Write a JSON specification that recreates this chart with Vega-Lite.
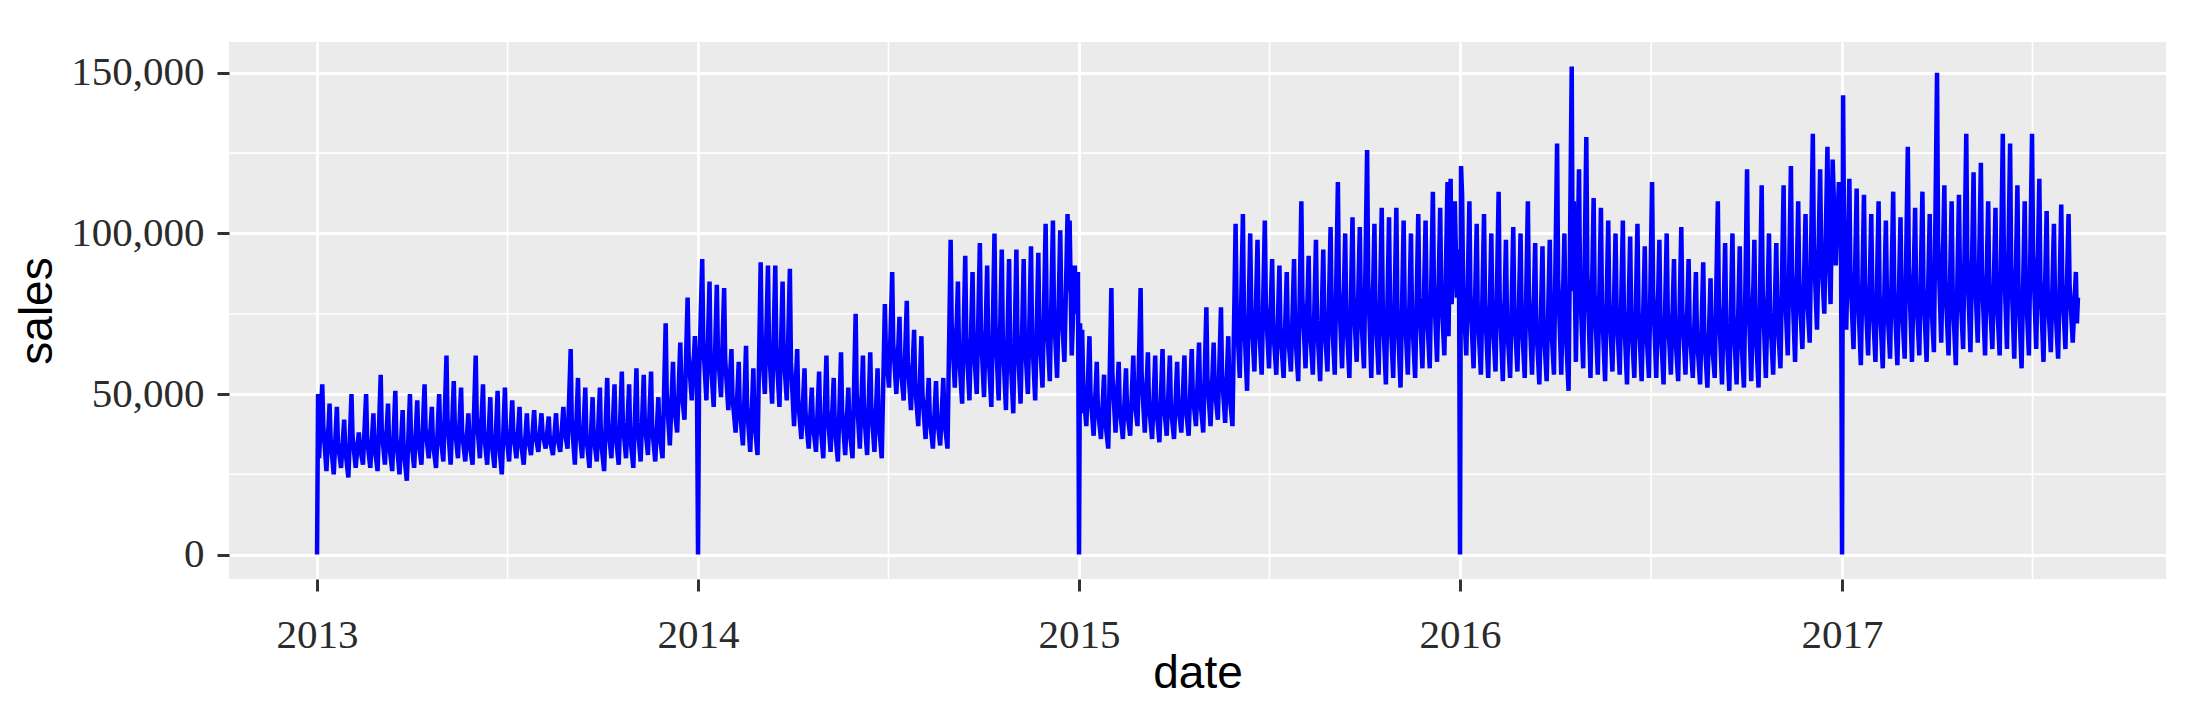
{
  "$schema": "https://vega.github.io/schema/vega-lite/v6.json",
  "width": 1937,
  "height": 537,
  "autosize": {"type": "none"},
  "padding": {"left": 229, "top": 42, "right": 25, "bottom": 146},
  "background": "white",
  "config": {
    "view": {"fill": "#EBEBEB", "stroke": null},
    "axis": {
      "domain": false,
      "grid": true,
      "gridColor": "white",
      "gridWidth": 3,
      "tickColor": "#333333",
      "tickWidth": 3,
      "tickSize": 12,
      "labelFont": "Liberation Serif",
      "labelFontSize": 41,
      "labelColor": "#2b2b2b",
      "titleFont": "Liberation Sans",
      "titleFontSize": 46,
      "titleFontWeight": "normal",
      "titleColor": "black",
      "titleBaseline": "alphabetic",
      "labelOverlap": false,
      "labelFlush": false,
      "labelBound": false
    }
  },
  "datasets": {
    "vg": [
      {"date": "2013-07-02T12:00:00Z"},
      {"date": "2014-07-02T12:00:00Z"},
      {"date": "2015-07-02T12:00:00Z"},
      {"date": "2016-07-02T00:00:00Z"},
      {"date": "2017-07-02T12:00:00Z"}
    ],
    "hg": [
      {"sales": 25000},
      {"sales": 75000},
      {"sales": 125000}
    ],
    "s": [
{"date":"2013-01-01","sales":0},{"date":"2013-01-02","sales":50000},{"date":"2013-01-03","sales":30000},{"date":"2013-01-06","sales":53000},{"date":"2013-01-10","sales":26000},{"date":"2013-01-13","sales":47000},{"date":"2013-01-17","sales":25000},{"date":"2013-01-20","sales":46000},{"date":"2013-01-24","sales":27000},{"date":"2013-01-27","sales":42000},{"date":"2013-01-31","sales":24000},
{"date":"2013-02-03","sales":50000},{"date":"2013-02-07","sales":27000},{"date":"2013-02-10","sales":38000},{"date":"2013-02-14","sales":28000},{"date":"2013-02-17","sales":50000},{"date":"2013-02-21","sales":27000},{"date":"2013-02-24","sales":44000},{"date":"2013-02-28","sales":26000},
{"date":"2013-03-03","sales":56000},{"date":"2013-03-07","sales":28000},{"date":"2013-03-10","sales":47000},{"date":"2013-03-14","sales":26000},{"date":"2013-03-17","sales":51000},{"date":"2013-03-21","sales":25000},{"date":"2013-03-24","sales":45000},{"date":"2013-03-28","sales":23000},{"date":"2013-03-31","sales":50000},
{"date":"2013-04-04","sales":27000},{"date":"2013-04-07","sales":48000},{"date":"2013-04-11","sales":28000},{"date":"2013-04-14","sales":53000},{"date":"2013-04-18","sales":30000},{"date":"2013-04-21","sales":46000},{"date":"2013-04-25","sales":27000},{"date":"2013-04-28","sales":50000},
{"date":"2013-05-02","sales":29000},{"date":"2013-05-05","sales":62000},{"date":"2013-05-09","sales":28000},{"date":"2013-05-12","sales":54000},{"date":"2013-05-16","sales":30000},{"date":"2013-05-19","sales":52000},{"date":"2013-05-23","sales":29000},{"date":"2013-05-26","sales":44000},{"date":"2013-05-30","sales":28000},
{"date":"2013-06-02","sales":62000},{"date":"2013-06-06","sales":30000},{"date":"2013-06-09","sales":53000},{"date":"2013-06-13","sales":28000},{"date":"2013-06-16","sales":49000},{"date":"2013-06-20","sales":27000},{"date":"2013-06-23","sales":51000},{"date":"2013-06-27","sales":25000},{"date":"2013-06-30","sales":52000},
{"date":"2013-07-04","sales":29000},{"date":"2013-07-07","sales":48000},{"date":"2013-07-11","sales":30000},{"date":"2013-07-14","sales":46000},{"date":"2013-07-18","sales":28000},{"date":"2013-07-21","sales":44000},{"date":"2013-07-25","sales":31000},{"date":"2013-07-28","sales":45000},
{"date":"2013-08-01","sales":32000},{"date":"2013-08-04","sales":44000},{"date":"2013-08-08","sales":33000},{"date":"2013-08-11","sales":43000},{"date":"2013-08-15","sales":31000},{"date":"2013-08-18","sales":44000},{"date":"2013-08-22","sales":32000},{"date":"2013-08-25","sales":46000},{"date":"2013-08-29","sales":33000},
{"date":"2013-09-01","sales":64000},{"date":"2013-09-05","sales":28000},{"date":"2013-09-08","sales":55000},{"date":"2013-09-12","sales":30000},{"date":"2013-09-15","sales":52000},{"date":"2013-09-19","sales":27000},{"date":"2013-09-22","sales":49000},{"date":"2013-09-26","sales":29000},{"date":"2013-09-29","sales":52000},
{"date":"2013-10-03","sales":26000},{"date":"2013-10-06","sales":55000},{"date":"2013-10-10","sales":30000},{"date":"2013-10-13","sales":53000},{"date":"2013-10-17","sales":28000},{"date":"2013-10-20","sales":57000},{"date":"2013-10-24","sales":30000},{"date":"2013-10-27","sales":53000},{"date":"2013-10-31","sales":27000},
{"date":"2013-11-03","sales":58000},{"date":"2013-11-07","sales":29000},{"date":"2013-11-10","sales":56000},{"date":"2013-11-14","sales":31000},{"date":"2013-11-17","sales":57000},{"date":"2013-11-21","sales":29000},{"date":"2013-11-24","sales":49000},{"date":"2013-11-28","sales":30000},
{"date":"2013-12-01","sales":72000},{"date":"2013-12-05","sales":34000},{"date":"2013-12-08","sales":60000},{"date":"2013-12-12","sales":38000},{"date":"2013-12-15","sales":66000},{"date":"2013-12-19","sales":42000},{"date":"2013-12-22","sales":80000},{"date":"2013-12-26","sales":48000},{"date":"2013-12-29","sales":68000},{"date":"2013-12-31","sales":52000},
{"date":"2014-01-01","sales":0},{"date":"2014-01-02","sales":55000},{"date":"2014-01-05","sales":92000},{"date":"2014-01-09","sales":48000},{"date":"2014-01-12","sales":85000},{"date":"2014-01-16","sales":46000},{"date":"2014-01-19","sales":84000},{"date":"2014-01-23","sales":49000},{"date":"2014-01-26","sales":83000},{"date":"2014-01-30","sales":45000},
{"date":"2014-02-02","sales":64000},{"date":"2014-02-06","sales":38000},{"date":"2014-02-09","sales":60000},{"date":"2014-02-13","sales":34000},{"date":"2014-02-16","sales":65000},{"date":"2014-02-20","sales":32000},{"date":"2014-02-23","sales":58000},{"date":"2014-02-27","sales":31000},
{"date":"2014-03-02","sales":91000},{"date":"2014-03-06","sales":50000},{"date":"2014-03-09","sales":90000},{"date":"2014-03-13","sales":47000},{"date":"2014-03-16","sales":90000},{"date":"2014-03-20","sales":46000},{"date":"2014-03-23","sales":85000},{"date":"2014-03-27","sales":48000},{"date":"2014-03-30","sales":89000},
{"date":"2014-04-03","sales":40000},{"date":"2014-04-06","sales":64000},{"date":"2014-04-10","sales":36000},{"date":"2014-04-13","sales":58000},{"date":"2014-04-17","sales":33000},{"date":"2014-04-20","sales":52000},{"date":"2014-04-24","sales":32000},{"date":"2014-04-27","sales":57000},
{"date":"2014-05-01","sales":30000},{"date":"2014-05-04","sales":62000},{"date":"2014-05-08","sales":32000},{"date":"2014-05-11","sales":55000},{"date":"2014-05-15","sales":29000},{"date":"2014-05-18","sales":63000},{"date":"2014-05-22","sales":31000},{"date":"2014-05-25","sales":52000},{"date":"2014-05-29","sales":30000},
{"date":"2014-06-01","sales":75000},{"date":"2014-06-05","sales":33000},{"date":"2014-06-08","sales":62000},{"date":"2014-06-12","sales":31000},{"date":"2014-06-15","sales":63000},{"date":"2014-06-19","sales":32000},{"date":"2014-06-22","sales":58000},{"date":"2014-06-26","sales":30000},{"date":"2014-06-29","sales":78000},
{"date":"2014-07-03","sales":52000},{"date":"2014-07-06","sales":88000},{"date":"2014-07-10","sales":50000},{"date":"2014-07-13","sales":74000},{"date":"2014-07-17","sales":48000},{"date":"2014-07-20","sales":79000},{"date":"2014-07-24","sales":45000},{"date":"2014-07-27","sales":70000},{"date":"2014-07-31","sales":40000},
{"date":"2014-08-03","sales":68000},{"date":"2014-08-07","sales":36000},{"date":"2014-08-10","sales":55000},{"date":"2014-08-14","sales":33000},{"date":"2014-08-17","sales":54000},{"date":"2014-08-21","sales":34000},{"date":"2014-08-24","sales":55000},{"date":"2014-08-28","sales":33000},{"date":"2014-08-31","sales":98000},
{"date":"2014-09-04","sales":52000},{"date":"2014-09-07","sales":85000},{"date":"2014-09-11","sales":47000},{"date":"2014-09-14","sales":93000},{"date":"2014-09-18","sales":48000},{"date":"2014-09-21","sales":88000},{"date":"2014-09-25","sales":50000},{"date":"2014-09-28","sales":97000},
{"date":"2014-10-02","sales":49000},{"date":"2014-10-05","sales":90000},{"date":"2014-10-09","sales":46000},{"date":"2014-10-12","sales":100000},{"date":"2014-10-16","sales":48000},{"date":"2014-10-19","sales":95000},{"date":"2014-10-23","sales":45000},{"date":"2014-10-26","sales":92000},{"date":"2014-10-30","sales":44000},
{"date":"2014-11-02","sales":95000},{"date":"2014-11-06","sales":47000},{"date":"2014-11-09","sales":92000},{"date":"2014-11-13","sales":50000},{"date":"2014-11-16","sales":96000},{"date":"2014-11-20","sales":48000},{"date":"2014-11-23","sales":94000},{"date":"2014-11-27","sales":52000},{"date":"2014-11-30","sales":103000},
{"date":"2014-12-04","sales":54000},{"date":"2014-12-07","sales":104000},{"date":"2014-12-11","sales":55000},{"date":"2014-12-14","sales":101000},{"date":"2014-12-18","sales":60000},{"date":"2014-12-21","sales":106000},{"date":"2014-12-23","sales":104000},{"date":"2014-12-25","sales":62000},{"date":"2014-12-28","sales":90000},{"date":"2014-12-31","sales":88000},
{"date":"2015-01-01","sales":0},{"date":"2015-01-02","sales":72000},{"date":"2015-01-03","sales":44000},{"date":"2015-01-04","sales":70000},{"date":"2015-01-08","sales":40000},{"date":"2015-01-11","sales":68000},{"date":"2015-01-15","sales":37000},{"date":"2015-01-18","sales":60000},{"date":"2015-01-22","sales":36000},{"date":"2015-01-25","sales":56000},{"date":"2015-01-29","sales":33000},
{"date":"2015-02-01","sales":83000},{"date":"2015-02-05","sales":38000},{"date":"2015-02-08","sales":60000},{"date":"2015-02-12","sales":36000},{"date":"2015-02-15","sales":58000},{"date":"2015-02-19","sales":37000},{"date":"2015-02-22","sales":62000},{"date":"2015-02-26","sales":40000},
{"date":"2015-03-01","sales":83000},{"date":"2015-03-05","sales":38000},{"date":"2015-03-08","sales":63000},{"date":"2015-03-12","sales":36000},{"date":"2015-03-15","sales":62000},{"date":"2015-03-19","sales":35000},{"date":"2015-03-22","sales":64000},{"date":"2015-03-26","sales":37000},{"date":"2015-03-29","sales":62000},
{"date":"2015-04-02","sales":36000},{"date":"2015-04-05","sales":60000},{"date":"2015-04-09","sales":38000},{"date":"2015-04-12","sales":62000},{"date":"2015-04-16","sales":37000},{"date":"2015-04-19","sales":64000},{"date":"2015-04-23","sales":40000},{"date":"2015-04-26","sales":66000},{"date":"2015-04-30","sales":38000},
{"date":"2015-05-03","sales":77000},{"date":"2015-05-07","sales":40000},{"date":"2015-05-10","sales":66000},{"date":"2015-05-14","sales":42000},{"date":"2015-05-17","sales":77000},{"date":"2015-05-21","sales":41000},{"date":"2015-05-24","sales":68000},{"date":"2015-05-28","sales":40000},{"date":"2015-05-31","sales":103000},
{"date":"2015-06-04","sales":55000},{"date":"2015-06-07","sales":106000},{"date":"2015-06-11","sales":51000},{"date":"2015-06-14","sales":100000},{"date":"2015-06-18","sales":57000},{"date":"2015-06-21","sales":98000},{"date":"2015-06-25","sales":56000},{"date":"2015-06-28","sales":104000},
{"date":"2015-07-02","sales":58000},{"date":"2015-07-05","sales":92000},{"date":"2015-07-09","sales":56000},{"date":"2015-07-12","sales":90000},{"date":"2015-07-16","sales":55000},{"date":"2015-07-19","sales":88000},{"date":"2015-07-23","sales":57000},{"date":"2015-07-26","sales":92000},{"date":"2015-07-30","sales":54000},
{"date":"2015-08-02","sales":110000},{"date":"2015-08-06","sales":58000},{"date":"2015-08-09","sales":93000},{"date":"2015-08-13","sales":56000},{"date":"2015-08-16","sales":98000},{"date":"2015-08-20","sales":54000},{"date":"2015-08-23","sales":95000},{"date":"2015-08-27","sales":57000},{"date":"2015-08-30","sales":102000},
{"date":"2015-09-03","sales":56000},{"date":"2015-09-06","sales":116000},{"date":"2015-09-10","sales":58000},{"date":"2015-09-13","sales":100000},{"date":"2015-09-17","sales":55000},{"date":"2015-09-20","sales":105000},{"date":"2015-09-24","sales":60000},{"date":"2015-09-27","sales":102000},
{"date":"2015-10-01","sales":58000},{"date":"2015-10-04","sales":126000},{"date":"2015-10-08","sales":55000},{"date":"2015-10-11","sales":103000},{"date":"2015-10-15","sales":56000},{"date":"2015-10-18","sales":108000},{"date":"2015-10-22","sales":53000},{"date":"2015-10-25","sales":105000},{"date":"2015-10-29","sales":55000},
{"date":"2015-11-01","sales":108000},{"date":"2015-11-05","sales":52000},{"date":"2015-11-08","sales":104000},{"date":"2015-11-12","sales":56000},{"date":"2015-11-15","sales":100000},{"date":"2015-11-19","sales":55000},{"date":"2015-11-22","sales":106000},{"date":"2015-11-26","sales":58000},{"date":"2015-11-29","sales":104000},
{"date":"2015-12-03","sales":58000},{"date":"2015-12-06","sales":113000},{"date":"2015-12-10","sales":60000},{"date":"2015-12-13","sales":108000},{"date":"2015-12-17","sales":62000},{"date":"2015-12-20","sales":116000},{"date":"2015-12-21","sales":68000},{"date":"2015-12-23","sales":117000},{"date":"2015-12-24","sales":78000},{"date":"2015-12-27","sales":110000},{"date":"2015-12-29","sales":80000},{"date":"2015-12-31","sales":95000},
{"date":"2016-01-01","sales":0},{"date":"2016-01-02","sales":121000},{"date":"2016-01-03","sales":112000},{"date":"2016-01-07","sales":62000},{"date":"2016-01-10","sales":110000},{"date":"2016-01-14","sales":58000},{"date":"2016-01-17","sales":103000},{"date":"2016-01-21","sales":56000},{"date":"2016-01-24","sales":106000},{"date":"2016-01-28","sales":55000},{"date":"2016-01-31","sales":100000},
{"date":"2016-02-04","sales":57000},{"date":"2016-02-07","sales":113000},{"date":"2016-02-11","sales":54000},{"date":"2016-02-14","sales":98000},{"date":"2016-02-18","sales":55000},{"date":"2016-02-21","sales":102000},{"date":"2016-02-25","sales":57000},{"date":"2016-02-28","sales":100000},
{"date":"2016-03-03","sales":55000},{"date":"2016-03-06","sales":110000},{"date":"2016-03-10","sales":56000},{"date":"2016-03-13","sales":97000},{"date":"2016-03-17","sales":53000},{"date":"2016-03-20","sales":96000},{"date":"2016-03-24","sales":54000},{"date":"2016-03-27","sales":98000},{"date":"2016-03-31","sales":56000},
{"date":"2016-04-03","sales":128000},{"date":"2016-04-07","sales":56000},{"date":"2016-04-10","sales":100000},{"date":"2016-04-14","sales":51000},{"date":"2016-04-17","sales":152000},{"date":"2016-04-18","sales":82000},{"date":"2016-04-19","sales":110000},{"date":"2016-04-21","sales":60000},{"date":"2016-04-24","sales":120000},{"date":"2016-04-28","sales":58000},
{"date":"2016-05-01","sales":130000},{"date":"2016-05-05","sales":55000},{"date":"2016-05-08","sales":111000},{"date":"2016-05-12","sales":56000},{"date":"2016-05-15","sales":108000},{"date":"2016-05-19","sales":54000},{"date":"2016-05-22","sales":104000},{"date":"2016-05-26","sales":57000},{"date":"2016-05-29","sales":100000},
{"date":"2016-06-02","sales":56000},{"date":"2016-06-05","sales":104000},{"date":"2016-06-09","sales":53000},{"date":"2016-06-12","sales":99000},{"date":"2016-06-16","sales":55000},{"date":"2016-06-19","sales":103000},{"date":"2016-06-23","sales":54000},{"date":"2016-06-26","sales":96000},{"date":"2016-06-30","sales":55000},
{"date":"2016-07-03","sales":116000},{"date":"2016-07-07","sales":55000},{"date":"2016-07-10","sales":98000},{"date":"2016-07-14","sales":53000},{"date":"2016-07-17","sales":100000},{"date":"2016-07-21","sales":56000},{"date":"2016-07-24","sales":92000},{"date":"2016-07-28","sales":54000},{"date":"2016-07-31","sales":102000},
{"date":"2016-08-04","sales":56000},{"date":"2016-08-07","sales":92000},{"date":"2016-08-11","sales":55000},{"date":"2016-08-14","sales":88000},{"date":"2016-08-18","sales":53000},{"date":"2016-08-21","sales":91000},{"date":"2016-08-25","sales":52000},{"date":"2016-08-28","sales":86000},
{"date":"2016-09-01","sales":55000},{"date":"2016-09-04","sales":110000},{"date":"2016-09-08","sales":53000},{"date":"2016-09-11","sales":97000},{"date":"2016-09-15","sales":51000},{"date":"2016-09-18","sales":100000},{"date":"2016-09-22","sales":53000},{"date":"2016-09-25","sales":96000},{"date":"2016-09-29","sales":52000},
{"date":"2016-10-02","sales":120000},{"date":"2016-10-06","sales":54000},{"date":"2016-10-09","sales":98000},{"date":"2016-10-13","sales":52000},{"date":"2016-10-16","sales":115000},{"date":"2016-10-20","sales":55000},{"date":"2016-10-23","sales":100000},{"date":"2016-10-27","sales":56000},{"date":"2016-10-30","sales":97000},
{"date":"2016-11-03","sales":58000},{"date":"2016-11-06","sales":115000},{"date":"2016-11-10","sales":62000},{"date":"2016-11-13","sales":121000},{"date":"2016-11-17","sales":60000},{"date":"2016-11-20","sales":110000},{"date":"2016-11-24","sales":64000},{"date":"2016-11-27","sales":106000},
{"date":"2016-12-01","sales":66000},{"date":"2016-12-04","sales":131000},{"date":"2016-12-08","sales":70000},{"date":"2016-12-11","sales":120000},{"date":"2016-12-15","sales":75000},{"date":"2016-12-18","sales":127000},{"date":"2016-12-21","sales":78000},{"date":"2016-12-23","sales":123000},{"date":"2016-12-26","sales":90000},{"date":"2016-12-29","sales":116000},{"date":"2016-12-31","sales":100000},
{"date":"2017-01-01","sales":0},{"date":"2017-01-02","sales":143000},{"date":"2017-01-05","sales":70000},{"date":"2017-01-08","sales":117000},{"date":"2017-01-12","sales":64000},{"date":"2017-01-15","sales":114000},{"date":"2017-01-19","sales":59000},{"date":"2017-01-22","sales":112000},{"date":"2017-01-26","sales":62000},{"date":"2017-01-29","sales":106000},
{"date":"2017-02-02","sales":60000},{"date":"2017-02-05","sales":110000},{"date":"2017-02-09","sales":58000},{"date":"2017-02-12","sales":104000},{"date":"2017-02-16","sales":61000},{"date":"2017-02-19","sales":113000},{"date":"2017-02-23","sales":59000},{"date":"2017-02-26","sales":105000},
{"date":"2017-03-02","sales":61000},{"date":"2017-03-05","sales":127000},{"date":"2017-03-09","sales":60000},{"date":"2017-03-12","sales":108000},{"date":"2017-03-16","sales":62000},{"date":"2017-03-19","sales":113000},{"date":"2017-03-23","sales":60000},{"date":"2017-03-26","sales":106000},{"date":"2017-03-30","sales":63000},
{"date":"2017-04-02","sales":150000},{"date":"2017-04-06","sales":66000},{"date":"2017-04-09","sales":115000},{"date":"2017-04-13","sales":62000},{"date":"2017-04-16","sales":110000},{"date":"2017-04-20","sales":59000},{"date":"2017-04-23","sales":112000},{"date":"2017-04-27","sales":64000},{"date":"2017-04-30","sales":131000},
{"date":"2017-05-04","sales":63000},{"date":"2017-05-07","sales":119000},{"date":"2017-05-11","sales":66000},{"date":"2017-05-14","sales":122000},{"date":"2017-05-18","sales":62000},{"date":"2017-05-21","sales":110000},{"date":"2017-05-25","sales":64000},{"date":"2017-05-28","sales":108000},
{"date":"2017-06-01","sales":62000},{"date":"2017-06-04","sales":131000},{"date":"2017-06-08","sales":64000},{"date":"2017-06-11","sales":128000},{"date":"2017-06-15","sales":61000},{"date":"2017-06-18","sales":115000},{"date":"2017-06-22","sales":58000},{"date":"2017-06-25","sales":110000},{"date":"2017-06-29","sales":62000},
{"date":"2017-07-02","sales":131000},{"date":"2017-07-06","sales":64000},{"date":"2017-07-09","sales":117000},{"date":"2017-07-13","sales":60000},{"date":"2017-07-16","sales":107000},{"date":"2017-07-20","sales":63000},{"date":"2017-07-23","sales":103000},{"date":"2017-07-27","sales":61000},{"date":"2017-07-30","sales":109000},
{"date":"2017-08-03","sales":64000},{"date":"2017-08-06","sales":106000},{"date":"2017-08-10","sales":66000},{"date":"2017-08-13","sales":88000},{"date":"2017-08-14","sales":72000},{"date":"2017-08-15","sales":80000},
{"date":"2013-01-07","sales":40000},{"date":"2013-01-14","sales":36000},{"date":"2013-01-21","sales":35000},{"date":"2013-01-28","sales":33000},{"date":"2013-02-04","sales":37000},{"date":"2013-02-11","sales":34000},{"date":"2013-02-18","sales":36000},{"date":"2013-02-25","sales":34000},{"date":"2013-03-04","sales":39000},{"date":"2013-03-11","sales":35000},{"date":"2013-03-18","sales":36000},{"date":"2013-03-25","sales":33000},{"date":"2013-04-01","sales":37000},{"date":"2013-04-08","sales":36000},{"date":"2013-04-15","sales":39000},{"date":"2013-04-22","sales":35000},{"date":"2013-04-29","sales":38000},{"date":"2013-05-06","sales":42000},{"date":"2013-05-13","sales":40000},{"date":"2013-05-20","sales":38000},{"date":"2013-05-27","sales":35000},{"date":"2013-06-03","sales":43000},{"date":"2013-06-10","sales":38000},{"date":"2013-06-17","sales":36000},{"date":"2013-06-24","sales":36000},{"date":"2013-07-01","sales":39000},{"date":"2013-07-08","sales":38000},{"date":"2013-07-15","sales":36000},{"date":"2013-07-22","sales":37000},{"date":"2013-07-29","sales":38000},{"date":"2013-08-05","sales":38000},{"date":"2013-08-12","sales":36000},{"date":"2013-08-19","sales":37000},{"date":"2013-08-26","sales":39000},{"date":"2013-09-02","sales":42000},{"date":"2013-09-09","sales":40000},{"date":"2013-09-16","sales":37000},{"date":"2013-09-23","sales":37000},{"date":"2013-09-30","sales":36000},{"date":"2013-10-07","sales":40000},{"date":"2013-10-14","sales":38000},{"date":"2013-10-21","sales":41000},{"date":"2013-10-28","sales":37000},{"date":"2013-11-04","sales":41000},{"date":"2013-11-11","sales":41000},{"date":"2013-11-18","sales":40000},{"date":"2013-11-25","sales":38000},{"date":"2013-12-02","sales":50000},{"date":"2013-12-09","sales":47000},{"date":"2013-12-16","sales":52000},{"date":"2013-12-23","sales":62000},{"date":"2013-12-30","sales":58000},
{"date":"2014-01-06","sales":66000},{"date":"2014-01-13","sales":62000},{"date":"2014-01-20","sales":64000},{"date":"2014-01-27","sales":61000},{"date":"2014-02-03","sales":49000},{"date":"2014-02-10","sales":45000},{"date":"2014-02-17","sales":46000},{"date":"2014-02-24","sales":42000},{"date":"2014-03-03","sales":67000},{"date":"2014-03-10","sales":65000},{"date":"2014-03-17","sales":64000},{"date":"2014-03-24","sales":63000},{"date":"2014-03-31","sales":60000},{"date":"2014-04-07","sales":48000},{"date":"2014-04-14","sales":44000},{"date":"2014-04-21","sales":41000},{"date":"2014-04-28","sales":42000},{"date":"2014-05-05","sales":45000},{"date":"2014-05-12","sales":40000},{"date":"2014-05-19","sales":45000},{"date":"2014-05-26","sales":40000},{"date":"2014-06-02","sales":50000},{"date":"2014-06-09","sales":45000},{"date":"2014-06-16","sales":46000},{"date":"2014-06-23","sales":42000},{"date":"2014-06-30","sales":63000},{"date":"2014-07-07","sales":66000},{"date":"2014-07-14","sales":59000},{"date":"2014-07-21","sales":60000},{"date":"2014-07-28","sales":53000},{"date":"2014-08-04","sales":50000},{"date":"2014-08-11","sales":43000},{"date":"2014-08-18","sales":43000},{"date":"2014-08-25","sales":42000},{"date":"2014-09-01","sales":72000},{"date":"2014-09-08","sales":63000},{"date":"2014-09-15","sales":67000},{"date":"2014-09-22","sales":66000},{"date":"2014-09-29","sales":70000},{"date":"2014-10-06","sales":65000},{"date":"2014-10-13","sales":71000},{"date":"2014-10-20","sales":67000},{"date":"2014-10-27","sales":65000},{"date":"2014-11-03","sales":68000},{"date":"2014-11-10","sales":68000},{"date":"2014-11-17","sales":69000},{"date":"2014-11-24","sales":70000},{"date":"2014-12-01","sales":75000},{"date":"2014-12-08","sales":76000},{"date":"2014-12-15","sales":78000},{"date":"2014-12-22","sales":82000},{"date":"2014-12-29","sales":75000},
{"date":"2015-01-05","sales":52000},{"date":"2015-01-12","sales":50000},{"date":"2015-01-19","sales":46000},{"date":"2015-01-26","sales":42000},{"date":"2015-02-02","sales":56000},{"date":"2015-02-09","sales":46000},{"date":"2015-02-16","sales":45000},{"date":"2015-02-23","sales":49000},{"date":"2015-03-02","sales":56000},{"date":"2015-03-09","sales":47000},{"date":"2015-03-16","sales":46000},{"date":"2015-03-23","sales":48000},{"date":"2015-03-30","sales":46000},{"date":"2015-04-06","sales":47000},{"date":"2015-04-13","sales":47000},{"date":"2015-04-20","sales":50000},{"date":"2015-04-27","sales":49000},{"date":"2015-05-04","sales":55000},{"date":"2015-05-11","sales":52000},{"date":"2015-05-18","sales":56000},{"date":"2015-05-25","sales":51000},{"date":"2015-06-01","sales":76000},{"date":"2015-06-08","sales":75000},{"date":"2015-06-15","sales":76000},{"date":"2015-06-22","sales":74000},{"date":"2015-06-29","sales":78000},{"date":"2015-07-06","sales":71000},{"date":"2015-07-13","sales":70000},{"date":"2015-07-20","sales":70000},{"date":"2015-07-27","sales":70000},{"date":"2015-08-03","sales":80000},{"date":"2015-08-10","sales":72000},{"date":"2015-08-17","sales":73000},{"date":"2015-08-24","sales":73000},{"date":"2015-08-31","sales":76000},{"date":"2015-09-07","sales":83000},{"date":"2015-09-14","sales":75000},{"date":"2015-09-21","sales":80000},{"date":"2015-09-28","sales":77000},{"date":"2015-10-05","sales":86000},{"date":"2015-10-12","sales":77000},{"date":"2015-10-19","sales":77000},{"date":"2015-10-26","sales":77000},{"date":"2015-11-02","sales":76000},{"date":"2015-11-09","sales":77000},{"date":"2015-11-16","sales":75000},{"date":"2015-11-23","sales":80000},{"date":"2015-11-30","sales":78000},{"date":"2015-12-07","sales":84000},{"date":"2015-12-14","sales":82000},{"date":"2015-12-28","sales":95000},
{"date":"2016-01-04","sales":82000},{"date":"2016-01-11","sales":80000},{"date":"2016-01-18","sales":76000},{"date":"2016-01-25","sales":78000},{"date":"2016-02-01","sales":75000},{"date":"2016-02-08","sales":80000},{"date":"2016-02-15","sales":73000},{"date":"2016-02-22","sales":76000},{"date":"2016-02-29","sales":74000},{"date":"2016-03-07","sales":80000},{"date":"2016-03-14","sales":72000},{"date":"2016-03-21","sales":72000},{"date":"2016-03-28","sales":74000},{"date":"2016-04-04","sales":86000},{"date":"2016-04-11","sales":73000},{"date":"2016-04-25","sales":85000},{"date":"2016-05-02","sales":88000},{"date":"2016-05-09","sales":80000},{"date":"2016-05-16","sales":78000},{"date":"2016-05-23","sales":78000},{"date":"2016-05-30","sales":76000},{"date":"2016-06-06","sales":76000},{"date":"2016-06-13","sales":74000},{"date":"2016-06-20","sales":76000},{"date":"2016-06-27","sales":73000},{"date":"2016-07-04","sales":82000},{"date":"2016-07-11","sales":73000},{"date":"2016-07-18","sales":76000},{"date":"2016-07-25","sales":70000},{"date":"2016-08-01","sales":76000},{"date":"2016-08-08","sales":71000},{"date":"2016-08-15","sales":68000},{"date":"2016-08-22","sales":69000},{"date":"2016-08-29","sales":68000},{"date":"2016-09-05","sales":78000},{"date":"2016-09-12","sales":72000},{"date":"2016-09-19","sales":74000},{"date":"2016-09-26","sales":71000},{"date":"2016-10-03","sales":84000},{"date":"2016-10-10","sales":72000},{"date":"2016-10-17","sales":82000},{"date":"2016-10-24","sales":76000},{"date":"2016-10-31","sales":75000},{"date":"2016-11-07","sales":85000},{"date":"2016-11-14","sales":88000},{"date":"2016-11-21","sales":84000},{"date":"2016-11-28","sales":84000},{"date":"2016-12-05","sales":96000},{"date":"2016-12-12","sales":95000},{"date":"2016-12-19","sales":100000},
{"date":"2017-01-03","sales":95000},{"date":"2017-01-09","sales":88000},{"date":"2017-01-16","sales":84000},{"date":"2017-01-23","sales":84000},{"date":"2017-01-30","sales":80000},{"date":"2017-02-06","sales":80000},{"date":"2017-02-13","sales":80000},{"date":"2017-02-20","sales":82000},{"date":"2017-02-27","sales":80000},{"date":"2017-03-06","sales":90000},{"date":"2017-03-13","sales":82000},{"date":"2017-03-20","sales":83000},{"date":"2017-03-27","sales":82000},{"date":"2017-04-03","sales":98000},{"date":"2017-04-10","sales":85000},{"date":"2017-04-17","sales":81000},{"date":"2017-04-24","sales":85000},{"date":"2017-05-01","sales":92000},{"date":"2017-05-08","sales":90000},{"date":"2017-05-15","sales":88000},{"date":"2017-05-22","sales":84000},{"date":"2017-05-29","sales":82000},{"date":"2017-06-05","sales":94000},{"date":"2017-06-12","sales":90000},{"date":"2017-06-19","sales":84000},{"date":"2017-06-26","sales":84000},{"date":"2017-07-03","sales":94000},{"date":"2017-07-10","sales":86000},{"date":"2017-07-17","sales":82000},{"date":"2017-07-24","sales":80000},{"date":"2017-07-31","sales":84000},{"date":"2017-08-07","sales":84000}
    ]
  },
  "layer": [
    {
      "data": {"name": "vg"},
      "mark": {"type": "rule", "color": "white", "strokeWidth": 1.6},
      "encoding": {
        "x": {
          "field": "date", "type": "temporal",
          "scale": {"type": "utc", "domain": [{"year": 2012, "month": 10, "date": 8, "hours": 15, "minutes": 36, "utc": true}, {"year": 2017, "month": 11, "date": 7, "hours": 8, "minutes": 24, "utc": true}]},
          "axis": {
            "title": "date",
            "values": [
              {"year": 2013, "month": 1, "date": 1, "utc": true},
              {"year": 2014, "month": 1, "date": 1, "utc": true},
              {"year": 2015, "month": 1, "date": 1, "utc": true},
              {"year": 2016, "month": 1, "date": 1, "utc": true},
              {"year": 2017, "month": 1, "date": 1, "utc": true}
            ],
            "format": "%Y",
            "labelPadding": 24,
            "titlePadding": 32
          }
        }
      }
    },
    {
      "data": {"name": "hg"},
      "mark": {"type": "rule", "color": "white", "strokeWidth": 1.6},
      "encoding": {
        "y": {
          "field": "sales", "type": "quantitative",
          "scale": {"domain": [-7600, 159600], "nice": false, "zero": false},
          "axis": {
            "title": "sales",
            "values": [0, 50000, 100000, 150000],
            "format": ",d",
            "labelPadding": 13,
            "titlePadding": 19
          }
        }
      }
    },
    {
      "data": {"name": "s"},
      "mark": {"type": "line", "color": "#0000FF", "strokeWidth": 4.5, "strokeJoin": "bevel"},
      "encoding": {
        "x": {
          "field": "date", "type": "temporal",
          "scale": {"type": "utc", "domain": [{"year": 2012, "month": 10, "date": 8, "hours": 15, "minutes": 36, "utc": true}, {"year": 2017, "month": 11, "date": 7, "hours": 8, "minutes": 24, "utc": true}]},
          "axis": {
            "title": "date",
            "values": [
              {"year": 2013, "month": 1, "date": 1, "utc": true},
              {"year": 2014, "month": 1, "date": 1, "utc": true},
              {"year": 2015, "month": 1, "date": 1, "utc": true},
              {"year": 2016, "month": 1, "date": 1, "utc": true},
              {"year": 2017, "month": 1, "date": 1, "utc": true}
            ],
            "format": "%Y",
            "labelPadding": 24,
            "titlePadding": 32
          }
        },
        "y": {
          "field": "sales", "type": "quantitative",
          "scale": {"domain": [-7600, 159600], "nice": false, "zero": false},
          "axis": {
            "title": "sales",
            "values": [0, 50000, 100000, 150000],
            "format": ",d",
            "labelPadding": 13,
            "titlePadding": 19
          }
        }
      }
    }
  ]
}
